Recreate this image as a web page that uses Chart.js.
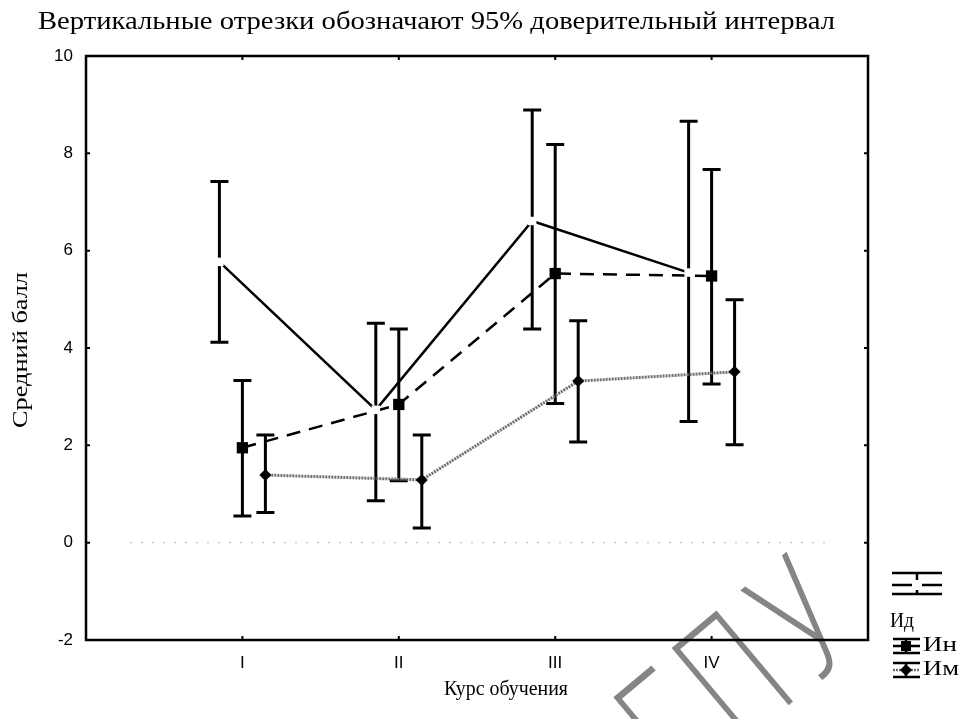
<!DOCTYPE html>
<html>
<head>
<meta charset="utf-8">
<script src="https://cdn.jsdelivr.net/npm/chart.js@4.4.1/dist/chart.umd.min.js"></script>
<style>
  html, body { margin: 0; padding: 0; background: #fff; }
  #wrap { width: 963px; height: 719px; }
</style>
</head>
<body>
<div id="wrap"><canvas id="chart" width="963" height="719"></canvas></div>
<script>
// Texts
const TITLE = 'Вертикальные отрезки обозначают 95% доверительный интервал';
const X_TITLE = 'Курс обучения';
const Y_TITLE = 'Средний балл';
const WATERMARK = 'БГПУ';

// Data
const CATEGORIES = ['I', 'II', 'III', 'IV'];
const SERIES = ['Ид', 'Ин', 'Им'];
const Y_TICKS = [-2, 0, 2, 4, 6, 8, 10];

const idMean = [5.77, 2.73, 6.61, 5.55];
const idLow = [4.12, 0.86, 4.39, 2.49];
const idHigh = [7.42, 4.51, 8.89, 8.66];

const inMean = [1.95, 2.84, 5.53, 5.48];
const inLow = [0.55, 1.27, 2.86, 3.26];
const inHigh = [3.33, 4.39, 8.18, 7.67];

const imMean = [1.39, 1.29, 3.32, 3.51];
const imLow = [0.62, 0.30, 2.07, 2.01];
const imHigh = [2.21, 2.21, 4.56, 4.99];

// Styles
const SERIF = '"Liberation Serif", "Times New Roman", serif';
const SANS = '"Liberation Sans", Arial, sans-serif';
const SHIFT = [-0.147, 0, 0.147]; // side-by-side offset of the three series
const DOT_GRAY = '#6f6f6f';

const errors = [
  { low: idLow, high: idHigh },
  { low: inLow, high: inHigh },
  { low: imLow, high: imHigh }
];

function points(means, shift) {
  return means.map((v, i) => ({ x: i + 1 + shift, y: v }));
}

// draw text squeezed/stretched to a given width (the scan uses a wider serif)
function fitText(ctx, text, x, y, width, align) {
  const w = ctx.measureText(text).width;
  ctx.save();
  ctx.translate(x, y);
  ctx.scale(width / w, 1);
  ctx.textAlign = align;
  ctx.fillText(text, 0, 0);
  ctx.restore();
}

// Error bars, frame, zero line, inner tick marks, titles, legend
const errorBarPlugin = {
  id: 'errorBars',
  beforeDraw(chart) {
    const ctx = chart.ctx;
    // scanned watermark, under everything
    ctx.save();
    ctx.translate(704, 698);
    ctx.rotate(-40 * Math.PI / 180);
    ctx.scale(0.85, 1.2);
    ctx.font = '200 136px "DejaVu Sans", sans-serif';
    ctx.letterSpacing = '14px';
    ctx.fillStyle = '#858585';
    ctx.textAlign = 'center';
    ctx.textBaseline = 'alphabetic';
    ctx.fillText(WATERMARK, 0, 50);
    ctx.restore();
  },
  beforeDatasetsDraw(chart) {
    const { ctx, chartArea: a, scales: { x, y } } = chart;
    ctx.save();
    // dotted zero line
    ctx.strokeStyle = '#b5b5b5';
    ctx.lineWidth = 1;
    ctx.setLineDash([2, 9]);
    ctx.beginPath();
    ctx.moveTo(a.left + 44, y.getPixelForValue(0));
    ctx.lineTo(a.right - 36, y.getPixelForValue(0));
    ctx.stroke();
    ctx.setLineDash([]);

    // error bars
    ctx.strokeStyle = '#000';
    ctx.lineWidth = 3;
    errors.forEach((e, s) => {
      e.low.forEach((lo, i) => {
        const px = x.getPixelForValue(i + 1 + SHIFT[s]);
        const pl = y.getPixelForValue(lo);
        const ph = y.getPixelForValue(e.high[i]);
        ctx.beginPath();
        ctx.moveTo(px, pl);
        ctx.lineTo(px, ph);
        ctx.moveTo(px - 9, pl);
        ctx.lineTo(px + 9, pl);
        ctx.moveTo(px - 9, ph);
        ctx.lineTo(px + 9, ph);
        ctx.stroke();
      });
    });
    ctx.restore();
  },
  afterDraw(chart) {
    const { ctx, chartArea: a, scales: { x, y } } = chart;
    ctx.save();
    // frame
    ctx.strokeStyle = '#000';
    ctx.lineWidth = 2.5;
    ctx.strokeRect(a.left, a.top, a.right - a.left, a.bottom - a.top);

    // inner tick marks
    ctx.lineWidth = 2;
    ctx.beginPath();
    Y_TICKS.forEach(v => {
      const py = y.getPixelForValue(v);
      ctx.moveTo(a.left, py); ctx.lineTo(a.left + 4, py);
      ctx.moveTo(a.right, py); ctx.lineTo(a.right - 4, py);
    });
    CATEGORIES.forEach((c, i) => {
      const px = x.getPixelForValue(i + 1);
      ctx.moveTo(px, a.top); ctx.lineTo(px, a.top + 4);
      ctx.moveTo(px, a.bottom); ctx.lineTo(px, a.bottom - 4);
    });
    ctx.stroke();

    // titles
    ctx.fillStyle = '#000';
    ctx.textBaseline = 'middle';
    ctx.font = '26px ' + SERIF;
    fitText(ctx, TITLE, 38, 22, 797, 'left');
    ctx.font = '20px ' + SERIF;
    fitText(ctx, X_TITLE, 506, 690, 124, 'center');
    ctx.save();
    ctx.translate(21, 350);
    ctx.rotate(-Math.PI / 2);
    ctx.font = '22px ' + SERIF;
    fitText(ctx, Y_TITLE, 0, 0, 156, 'center');
    ctx.restore();

    // legend
    drawLegend(ctx);
    ctx.restore();
  }
};

function drawLegend(ctx) {
  ctx.lineWidth = 2.5;
  ctx.strokeStyle = '#000';
  // Ид: wide symbol, label below
  ctx.beginPath();
  ctx.moveTo(892, 573); ctx.lineTo(942, 573);
  ctx.moveTo(892, 594); ctx.lineTo(942, 594);
  ctx.moveTo(892, 585); ctx.lineTo(942, 585);
  ctx.moveTo(917, 573); ctx.lineTo(917, 594);
  ctx.stroke();
  ctx.fillStyle = '#fff';
  ctx.fillRect(912, 580, 10, 10);

  // Ин
  ctx.beginPath();
  ctx.moveTo(893, 639); ctx.lineTo(920, 639);
  ctx.moveTo(893, 653); ctx.lineTo(920, 653);
  ctx.moveTo(893, 646); ctx.lineTo(920, 646);
  ctx.moveTo(906, 639); ctx.lineTo(906, 653);
  ctx.stroke();
  ctx.fillStyle = '#000';
  ctx.fillRect(901, 641, 10, 10);

  // Им
  ctx.beginPath();
  ctx.moveTo(893, 663); ctx.lineTo(920, 663);
  ctx.moveTo(893, 677); ctx.lineTo(920, 677);
  ctx.moveTo(906, 663); ctx.lineTo(906, 677);
  ctx.stroke();
  ctx.strokeStyle = DOT_GRAY;
  ctx.setLineDash([2, 1]);
  ctx.beginPath();
  ctx.moveTo(893, 670); ctx.lineTo(920, 670);
  ctx.stroke();
  ctx.setLineDash([]);
  ctx.fillStyle = '#000';
  ctx.beginPath();
  ctx.moveTo(906, 664); ctx.lineTo(912, 670); ctx.lineTo(906, 676); ctx.lineTo(900, 670);
  ctx.closePath();
  ctx.fill();

  ctx.font = '20px ' + SERIF;
  ctx.textBaseline = 'middle';
  fitText(ctx, SERIES[0], 890, 622, 24, 'left');
  fitText(ctx, SERIES[1], 923, 646, 34, 'left');
  fitText(ctx, SERIES[2], 923, 670, 36, 'left');
}

const ctx = document.getElementById('chart').getContext('2d');
new Chart(ctx, {
  type: 'line',
  data: {
    datasets: [{
      label: SERIES[0],
      data: points(idMean, SHIFT[0]),
      borderColor: '#000',
      borderWidth: 2.5,
      pointStyle: 'rect',
      pointRadius: 6,
      pointBackgroundColor: '#fff',
      pointBorderColor: '#fff',
      pointBorderWidth: 0
    }, {
      label: SERIES[1],
      data: points(inMean, SHIFT[1]),
      borderColor: '#000',
      borderWidth: 2.5,
      borderDash: [14, 9],
      pointStyle: 'rect',
      pointRadius: 8,
      pointBackgroundColor: '#000',
      pointBorderColor: '#000',
      pointBorderWidth: 0
    }, {
      label: SERIES[2],
      data: points(imMean, SHIFT[2]),
      borderColor: DOT_GRAY,
      borderWidth: 3,
      borderDash: [2, 1],
      pointStyle: 'rectRot',
      pointRadius: 6,
      pointBackgroundColor: '#000',
      pointBorderColor: '#000',
      pointBorderWidth: 0
    }]
  },
  options: {
    responsive: false,
    animation: false,
    layout: { padding: { top: 56, right: 95, left: 0, bottom: 0 } },
    plugins: {
      legend: { display: false },
      tooltip: { enabled: false },
      title: { display: false }
    },
    scales: {
      x: {
        type: 'linear',
        min: 0,
        max: 5,
        grid: { display: false, drawTicks: false },
        border: { display: false },
        afterBuildTicks: s => { s.ticks = CATEGORIES.map((c, i) => ({ value: i + 1 })); },
        ticks: {
          callback: v => CATEGORIES[v - 1],
          font: { family: '"Liberation Sans Narrow", "Liberation Sans", sans-serif', size: 17 },
          color: '#000',
          padding: 13,
          maxRotation: 0,
          autoSkip: false
        },
        afterFit: s => { s.height = 79; }
      },
      y: {
        min: -2,
        max: 10,
        grid: { display: false, drawTicks: false },
        border: { display: false },
        afterBuildTicks: s => { s.ticks = Y_TICKS.map(v => ({ value: v })); },
        ticks: {
          font: { family: SANS, size: 17 },
          color: '#000',
          padding: 13
        },
        title: { display: false },
        afterFit: s => { s.width = 86; }
      }
    }
  },
  plugins: [errorBarPlugin]
});
</script>
</body>
</html>
